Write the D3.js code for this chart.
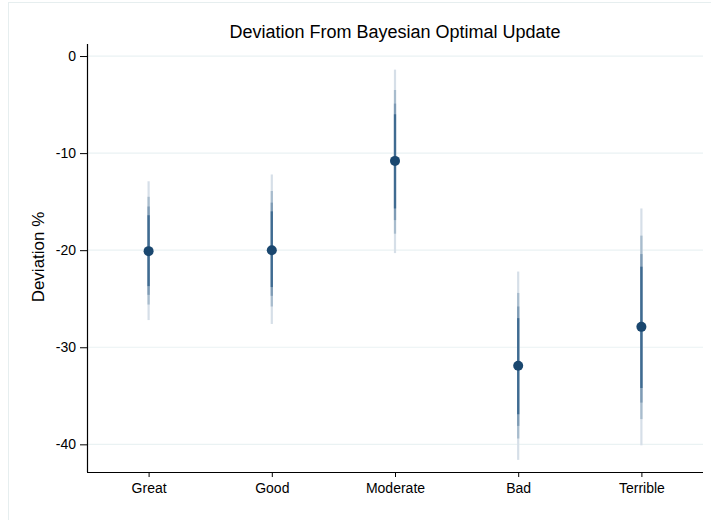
<!DOCTYPE html>
<html>
<head>
<meta charset="utf-8">
<script src="https://cdn.jsdelivr.net/npm/d3@7/dist/d3.min.js"></script>
<style>
  html, body { margin: 0; padding: 0; background: #fff; }
  svg { display: block; font-family: "Liberation Sans", Arial, Helvetica, sans-serif; }
</style>
</head>
<body>
<svg id="chart" width="711" height="520"></svg>
<script>
// ---- data ----
const categories = ["Great", "Good", "Moderate", "Bad", "Terrible"];
const estimates  = [-20.1, -20.0, -10.8, -31.9, -27.9];
// confidence intervals, widest (lightest) to narrowest (darkest)
const ci99Low  = [-27.2, -27.6, -20.3, -41.6, -40.1];
const ci99High = [-12.9, -12.2, -1.4, -22.2, -15.7];
const ci95Low  = [-25.6, -25.8, -18.3, -39.4, -37.4];
const ci95High = [-14.5, -13.9, -3.5, -24.4, -18.5];
const ci90Low  = [-24.6, -24.7, -16.9, -38.1, -35.7];
const ci90High = [-15.5, -15.1, -4.9, -25.8, -20.4];
const ci80Low  = [-23.7, -23.8, -15.7, -36.9, -34.2];
const ci80High = [-16.4, -16.0, -6.0, -27.0, -21.7];
const yTicks = [0, -10, -20, -30, -40];
const titleText = "Deviation From Bayesian Optimal Update";
const yLabel = "Deviation %";

// ---- layout ----
const svg = d3.select("#chart");
const pL = 87, pR = 703, pT = 44, pB = 472;

// outer frame
svg.append("rect")
  .attr("x", 8.5).attr("y", 2.5)
  .attr("width", 720).attr("height", 540)
  .attr("fill", "none").attr("stroke", "#e6eeef").attr("stroke-width", 1);

const x = d3.scalePoint().domain(categories).range([pL, pR]).padding(0.5);
const y = d3.scaleLinear().domain([-42.85, 1.24]).range([pB, pT]);

// gridlines
svg.append("g").selectAll("line").data(yTicks).join("line")
  .attr("x1", pL).attr("x2", pR)
  .attr("y1", d => y(d)).attr("y2", d => y(d))
  .attr("stroke", "#eaf2f3").attr("stroke-width", 1.2);

// y axis
const yAxis = svg.append("g").attr("transform", `translate(${pL},0)`)
  .call(d3.axisLeft(y).tickValues(yTicks).tickSize(7).tickPadding(4).tickFormat(d => String(d)));
yAxis.select(".domain").attr("d", `M0.5,${pT}V${pB}`).attr("stroke", "#000").attr("stroke-width", 1.2);
yAxis.selectAll(".tick line").attr("stroke", "#000");
yAxis.selectAll(".tick text").attr("font-size", 14).attr("fill", "#000")
  .attr("font-family", "'Liberation Sans', Arial, sans-serif");

// x axis
const xAxis = svg.append("g").attr("transform", `translate(0,${pB})`)
  .call(d3.axisBottom(x).tickSize(5).tickPadding(6));
xAxis.select(".domain").attr("d", `M${pL},0.5H${pR}`).attr("stroke", "#000").attr("stroke-width", 1.2);
xAxis.selectAll(".tick line").attr("stroke", "#000");
xAxis.selectAll(".tick text").attr("font-size", 14).attr("fill", "#000")
  .attr("font-family", "'Liberation Sans', Arial, sans-serif");

// intervals
const levels = [
  { lo: ci99Low, hi: ci99High, color: "#d6dfe8" },
  { lo: ci95Low, hi: ci95High, color: "#a8bccd" },
  { lo: ci90Low, hi: ci90High, color: "#7e9bb5" },
  { lo: ci80Low, hi: ci80High, color: "#3f6b91" }
];
levels.forEach(lv => {
  svg.append("g").selectAll("line").data(categories).join("line")
    .attr("x1", d => x(d)).attr("x2", d => x(d))
    .attr("y1", (d, i) => y(lv.lo[i])).attr("y2", (d, i) => y(lv.hi[i]))
    .attr("stroke", lv.color).attr("stroke-width", 2.2);
});

// points
svg.append("g").selectAll("circle").data(categories).join("circle")
  .attr("cx", d => x(d)).attr("cy", (d, i) => y(estimates[i]))
  .attr("r", 5).attr("fill", "#1a476f");

// title
svg.append("text")
  .attr("x", (pL + pR) / 2).attr("y", 38)
  .attr("text-anchor", "middle").attr("font-size", 18).attr("fill", "#000")
  .text(titleText);

// y label
svg.append("text")
  .attr("transform", `translate(44,257) rotate(-90)`)
  .attr("text-anchor", "middle").attr("font-size", 17).attr("fill", "#000")
  .text(yLabel);
</script>
</body>
</html>
